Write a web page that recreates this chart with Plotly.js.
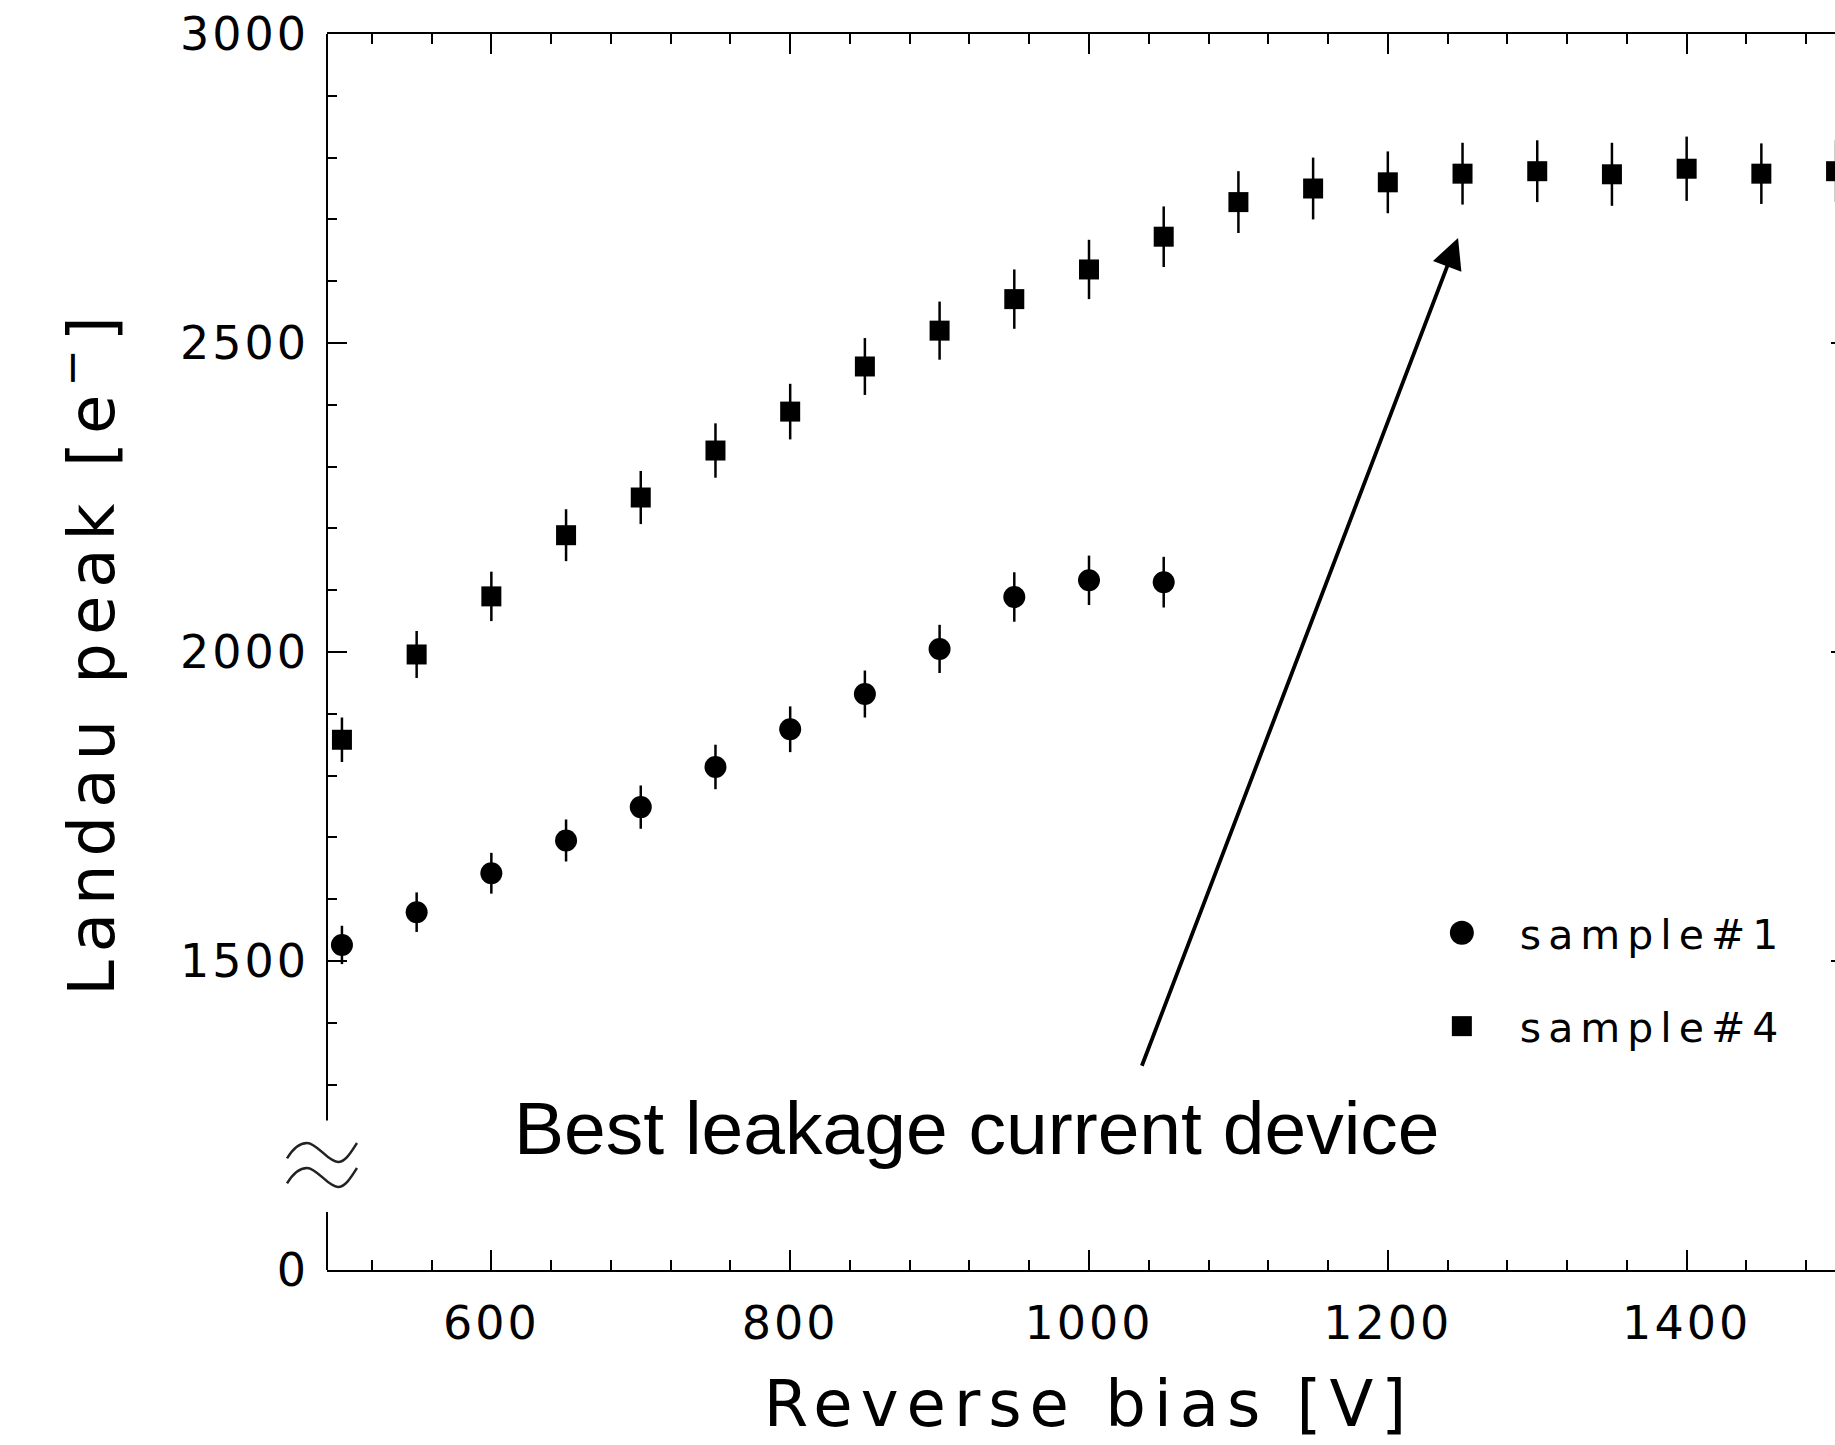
<!DOCTYPE html>
<html>
<head>
<meta charset="utf-8">
<script src="https://cdn.plot.ly/plotly-3.0.1.min.js"></script>
<style>
html, body { margin: 0; padding: 0; overflow: hidden; background: #ffffff; }
#chart { width: 1870px; height: 1445px; }
#chart .xtick text, #chart .ytick text { letter-spacing: 3px; }
#chart .g-xtitle text, #chart .g-ytitle text { letter-spacing: 8px; }
#chart .legendtext { letter-spacing: 7px; }
#chart .legend g { clip-path: none !important; }
#chart .legend .legendpoints { transform-box: fill-box; transform-origin: center; transform: scale(1.4); }
#chart .legend .groups:first-of-type .legendpoints { transform: scale(1.5); }
#chart .legend .groups:last-of-type .legendpoints { transform: scale(1.25); }
</style>
</head>
<body>
<div id="chart"></div>
<script>
// ---- data ----
const biasSample1 = [500, 550, 600, 650, 700, 750, 800, 850, 900, 950, 1000, 1050];
const peakSample1 = [1526, 1579, 1642, 1695, 1749, 1814, 1875, 1932, 2005, 2089, 2116, 2113];
const errSample1  = [31, 32, 33, 34, 35, 36, 37, 38, 39, 40, 40, 41];

const biasSample4 = [500, 550, 600, 650, 700, 750, 800, 850, 900, 950, 1000,
                     1050, 1100, 1150, 1200, 1250, 1300, 1350, 1400, 1450, 1500];
const peakSample4 = [1858, 1996, 2090, 2189, 2250, 2326, 2389, 2462, 2520, 2571, 2619,
                     2672, 2728, 2750, 2760, 2774, 2778, 2773, 2782, 2774, 2778];
const errSample4  = [36, 38, 40, 42, 43, 44, 45, 46, 47, 48, 48,
                     49, 50, 50, 50, 50, 50, 51, 52, 49, 50];

const seriesNames = ['sample#1', 'sample#4'];

// y axis: the bottom of the axis is relabelled "0" (broken axis)
const yTickVals  = [1000, 1500, 2000, 2500, 3000];
const yTickText  = ['0', '1500', '2000', '2500', '3000'];
const yMinorVals = [1300, 1400, 1600, 1700, 1800, 1900, 2100, 2200, 2300, 2400,
                    2600, 2700, 2800, 2900];
const xRange = [490, 1510];
const yRange = [1000, 3000];
const breakLow = 1094, breakHigh = 1242, breakMid = 1170;

const noteText = 'Best leakage current device';
const noteX = 925, noteY = 1229;
const arrowTip = [1247, 2670], arrowTail = [1035, 1328];

// ---- helpers ----
const tickFont = 'DejaVu Sans, sans-serif';
const yPaper = v => (v - yRange[0]) / (yRange[1] - yRange[0]);

function wave(dx, dy) {
  const pts = [[-35,-6],[-29,4],[-23,9.5],[-15,9.5],[-5,9.5],[6,-9.5],[16,-9.5],[24,-9.5],[30,2],[35,9.5]];
  const p = pts.map(([x, y]) => [x + dx, y + dy]);
  return `M${p[0][0]},${p[0][1]} C${p[1][0]},${p[1][1]} ${p[2][0]},${p[2][1]} ${p[3][0]},${p[3][1]} ` +
         `C${p[4][0]},${p[4][1]} ${p[5][0]},${p[5][1]} ${p[6][0]},${p[6][1]} ` +
         `C${p[7][0]},${p[7][1]} ${p[8][0]},${p[8][1]} ${p[9][0]},${p[9][1]}`;
}

const traces = [
  {
    x: biasSample1, y: peakSample1, name: seriesNames[0], legendgroup: 'g1',
    type: 'scatter', mode: 'markers',
    marker: { symbol: 'circle', size: 22, color: '#000000' },
    error_y: { type: 'data', array: errSample1, visible: true, color: '#000000', thickness: 2.5, width: 0 },
    cliponaxis: false
  },
  {
    x: biasSample4, y: peakSample4, name: seriesNames[1], legendgroup: 'g2',
    type: 'scatter', mode: 'markers',
    marker: { symbol: 'square', size: 20, color: '#000000' },
    error_y: { type: 'data', array: errSample4, visible: true, color: '#000000', thickness: 2.5, width: 0 },
    cliponaxis: false
  }
];

const layout = {
  width: 1870, height: 1445,
  margin: { l: 327, r: 19, t: 34, b: 175, pad: 0 },
  paper_bgcolor: '#ffffff', plot_bgcolor: '#ffffff',
  showlegend: true,
  legend: {
    x: 0.7066, y: 0.2996, xanchor: 'left', yanchor: 'top',
    bgcolor: 'rgba(0,0,0,0)', borderwidth: 0,
    font: { family: tickFont, size: 41, color: '#000000' },
    itemwidth: 106, tracegroupgap: 37, traceorder: 'grouped'
  },
  xaxis: {
    range: xRange, tickmode: 'linear', tick0: 0, dtick: 200,
    ticks: 'inside', ticklen: 20, tickwidth: 2, tickcolor: '#000000',
    showline: true, linewidth: 2, linecolor: '#000000', mirror: 'ticks',
    showgrid: false, zeroline: false, ticklabelstandoff: 12,
    tickfont: { family: tickFont, size: 46, color: '#000000' },
    minor: { ticks: 'inside', ticklen: 10, tickwidth: 2, tickcolor: '#000000', tick0: 0, dtick: 40, showgrid: false },
    title: { text: 'Reverse bias [V]', font: { family: tickFont, size: 64, color: '#000000' }, standoff: 32 }
  },
  yaxis: {
    range: yRange, tickmode: 'array', tickvals: yTickVals, ticktext: yTickText,
    ticks: 'inside', ticklen: 20, tickwidth: 2, tickcolor: '#000000',
    showline: false, mirror: 'ticks',
    showgrid: false, zeroline: false, ticklabelstandoff: 17,
    tickfont: { family: tickFont, size: 46, color: '#000000' },
    minor: { tickmode: 'array', tickvals: yMinorVals, ticks: 'inside', ticklen: 10, tickwidth: 2, tickcolor: '#000000', showgrid: false },
    title: { text: 'Landau peak [e<sup>−</sup>]', font: { family: tickFont, size: 64, color: '#000000' }, standoff: 56 }
  },
  shapes: [
    { type: 'line', xref: 'paper', yref: 'paper', x0: 0, x1: 0, y0: 0, y1: yPaper(breakLow),
      line: { color: '#000000', width: 2 } },
    { type: 'line', xref: 'paper', yref: 'paper', x0: 0, x1: 0, y0: yPaper(breakHigh), y1: 1,
      line: { color: '#000000', width: 2 } },
    { type: 'path', xref: 'paper', yref: 'paper', xsizemode: 'pixel', ysizemode: 'pixel',
      xanchor: 0, yanchor: yPaper(breakMid), path: wave(-5, 12.5),
      line: { color: '#222222', width: 2.5 } },
    { type: 'path', xref: 'paper', yref: 'paper', xsizemode: 'pixel', ysizemode: 'pixel',
      xanchor: 0, yanchor: yPaper(breakMid), path: wave(-5, -12.5),
      line: { color: '#222222', width: 2.5 } }
  ],
  annotations: [
    { x: noteX, y: noteY, xref: 'x', yref: 'y', text: noteText, showarrow: false,
      xanchor: 'center', yanchor: 'middle',
      font: { family: 'Liberation Sans, Arial, sans-serif', size: 75, color: '#000000' } },
    { x: arrowTip[0], y: arrowTip[1], xref: 'x', yref: 'y',
      ax: arrowTail[0], ay: arrowTail[1], axref: 'x', ayref: 'y',
      text: '', showarrow: true, arrowhead: 2, arrowsize: 1.6, arrowwidth: 3.8, arrowcolor: '#000000',
      standoff: 0, startstandoff: 0 }
  ]
};

Plotly.newPlot('chart', traces, layout, { displayModeBar: false, staticPlot: true });
</script>
</body>
</html>
